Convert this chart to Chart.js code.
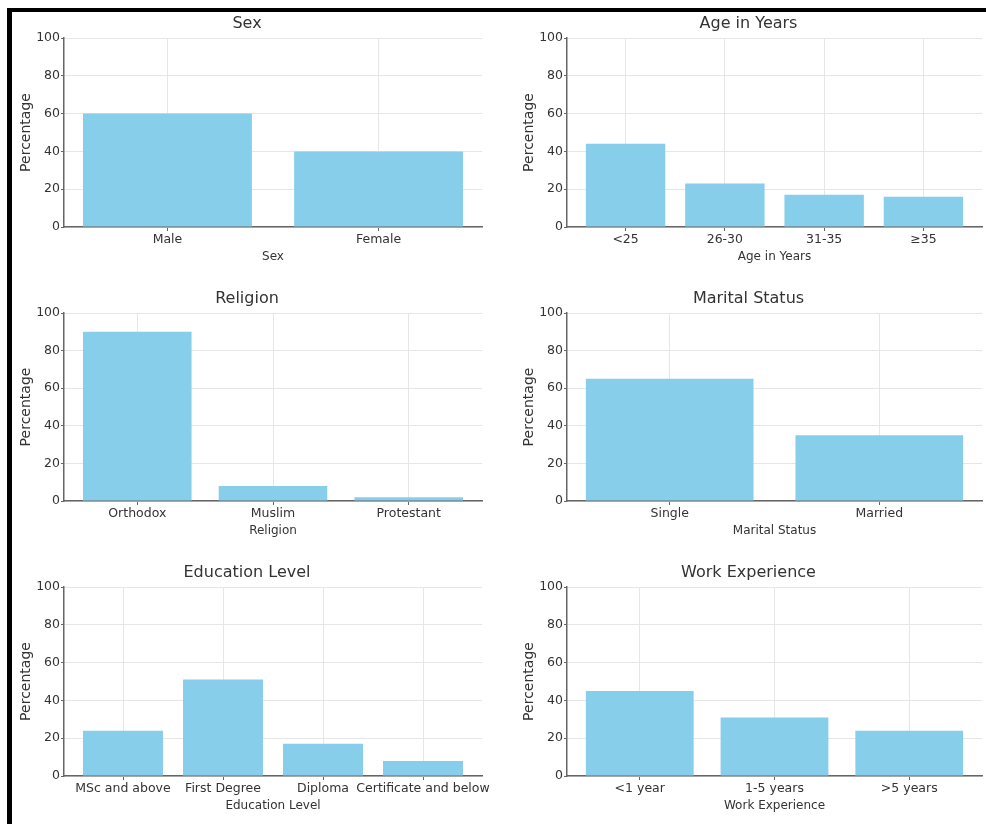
<!DOCTYPE html>
<html>
<head>
<meta charset="utf-8">
<script src="https://cdn.jsdelivr.net/npm/chart.js@4/dist/chart.umd.min.js"></script>
<style>
  html, body { margin: 0; padding: 0; background: #fff; width: 986px; height: 824px; overflow: hidden; }
  body { position: relative; font-family: "DejaVu Sans", sans-serif; }
  .frame-top { position: absolute; left: 7px; top: 8px; width: 979px; height: 4px; background: #000; }
  .frame-left { position: absolute; left: 7px; top: 8px; width: 5px; height: 816px; background: #000; }
  .panel { position: absolute; }
</style>
</head>
<body>
<div class="frame-top"></div>
<div class="frame-left"></div>
<div class="panel" id="p0"><canvas id="c0"></canvas></div>
<div class="panel" id="p1"><canvas id="c1"></canvas></div>
<div class="panel" id="p2"><canvas id="c2"></canvas></div>
<div class="panel" id="p3"><canvas id="c3"></canvas></div>
<div class="panel" id="p4"><canvas id="c4"></canvas></div>
<div class="panel" id="p5"><canvas id="c5"></canvas></div>
<script>
// ---- Data (percentages) ----
const sexLabels = ['Male', 'Female'];
const sexValues = [60, 40];

const ageLabels = ['<25', '26-30', '31-35', '\u226535'];
const ageValues = [44, 23, 17, 16];

const religionLabels = ['Orthodox', 'Muslim', 'Protestant'];
const religionValues = [90, 8, 2];

const maritalLabels = ['Single', 'Married'];
const maritalValues = [65, 35];

const educationLabels = ['MSc and above', 'First Degree', 'Diploma', 'Certificate and below'];
const educationValues = [24, 51, 17, 8];

const workLabels = ['<1 year', '1-5 years', '>5 years'];
const workValues = [45, 31, 24];

const yTickValues = [0, 20, 40, 60, 80, 100];
const yAxisTitle = 'Percentage';

// ---- Layout (page pixels) ----
const panels = [
  { id: 0, title: 'Sex',             labels: sexLabels,       values: sexValues,       left: 12,  top: 12,  width: 481, height: 255, padRight: 11 },
  { id: 1, title: 'Age in Years',    labels: ageLabels,       values: ageValues,       left: 515, top: 12,  width: 471, height: 255, padRight: 4 },
  { id: 2, title: 'Religion',        labels: religionLabels,  values: religionValues,  left: 12,  top: 287, width: 481, height: 254, padRight: 11 },
  { id: 3, title: 'Marital Status',  labels: maritalLabels,   values: maritalValues,   left: 515, top: 287, width: 471, height: 254, padRight: 4 },
  { id: 4, title: 'Education Level', labels: educationLabels, values: educationValues, left: 12,  top: 561, width: 481, height: 255, padRight: 11 },
  { id: 5, title: 'Work Experience', labels: workLabels,      values: workValues,      left: 515, top: 561, width: 471, height: 255, padRight: 4 }
];

const FONT = '"DejaVu Sans", "Liberation Sans", sans-serif';
const TEXT = '#333333';
const BAR = '#87CEEB';
const GRID = '#e6e6e6';
const AXIS = '#666666';

panels.forEach(p => {
  const box = document.getElementById('p' + p.id);
  box.style.left = p.left + 'px';
  box.style.top = p.top + 'px';
  box.style.width = p.width + 'px';
  box.style.height = p.height + 'px';

  const n = p.labels.length;
  // matplotlib-like x limits: bars of width 0.8 plus 5% margins
  const span = (n - 1) + 0.8;
  const xMin = -0.4 - 0.05 * span;
  const xMax = (n - 1) + 0.4 + 0.05 * span;

  new Chart(document.getElementById('c' + p.id), {
    type: 'bar',
    data: {
      datasets: [{
        data: p.values.map((v, i) => ({ x: i, y: v })),
        backgroundColor: BAR,
        borderWidth: 0,
        categoryPercentage: 0.8,
        barPercentage: 1.0
      }]
    },
    options: {
      responsive: true,
      maintainAspectRatio: false,
      animation: false,
      events: [],
      layout: { padding: { left: 0, right: p.padRight, top: 0, bottom: 0 } },
      plugins: {
        legend: { display: false },
        tooltip: { enabled: false },
        title: {
          display: true,
          text: p.title,
          color: TEXT,
          font: { family: FONT, size: 16, weight: 'normal', lineHeight: 1.2 },
          padding: { top: 2.4, bottom: 4.4 }
        }
      },
      scales: {
        x: {
          type: 'linear',
          min: xMin,
          max: xMax,
          offset: false,
          afterBuildTicks: s => { s.ticks = p.labels.map((_, i) => ({ value: i })); },
          afterFit: s => { s.height = 40; },
          ticks: {
            autoSkip: false,
            maxRotation: 0,
            minRotation: 0,
            padding: 1,
            color: TEXT,
            font: { family: FONT, size: 12.5 },
            callback: v => p.labels[Math.round(v)]
          },
          grid: { display: true, color: GRID, lineWidth: 1, offset: false, drawTicks: true, tickLength: 4, tickColor: AXIS, tickWidth: 1 },
          border: { display: true, color: AXIS, width: 1.5 },
          title: {
            display: true,
            text: p.title,
            color: TEXT,
            font: { family: FONT, size: 12, lineHeight: 1.2 },
            padding: { top: 0, bottom: 3 }
          }
        },
        y: {
          min: 0,
          max: 100,
          afterBuildTicks: s => { s.ticks = yTickValues.map(v => ({ value: v })); },
          afterFit: s => { s.width = 52; },
          ticks: {
            padding: 1,
            color: TEXT,
            font: { family: FONT, size: 12.5 }
          },
          grid: { display: true, color: GRID, lineWidth: 1, drawTicks: true, tickLength: 3, tickColor: AXIS, tickWidth: 1 },
          border: { display: true, color: AXIS, width: 1.5 },
          title: {
            display: true,
            text: yAxisTitle,
            color: TEXT,
            font: { family: FONT, size: 14, lineHeight: 1.2 },
            padding: { top: 5.6, bottom: 0 }
          }
        }
      }
    }
  });
});
</script>
</body>
</html>
